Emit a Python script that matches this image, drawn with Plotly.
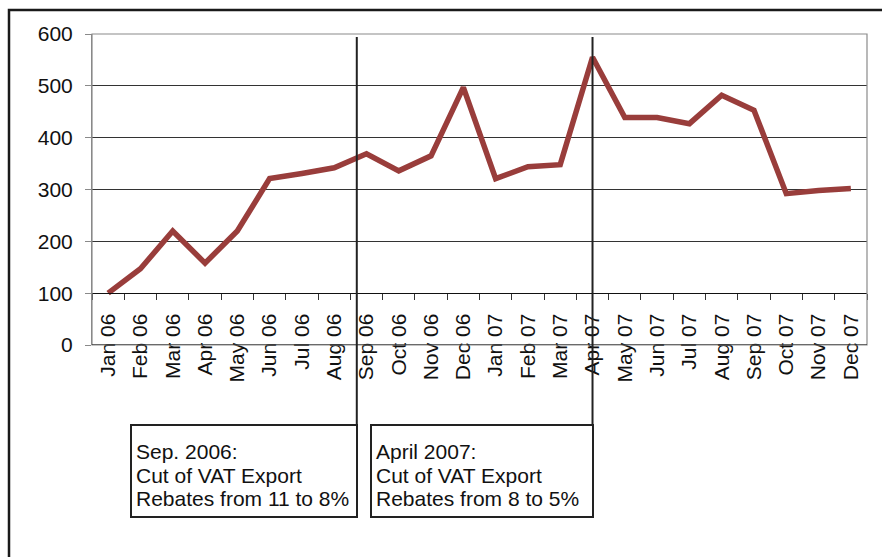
import plotly.graph_objects as go

# Monthly series, Jan 2006 - Dec 2007
months = ["Jan 06", "Feb 06", "Mar 06", "Apr 06", "May 06", "Jun 06", "Jul 06", "Aug 06",
          "Sep 06", "Oct 06", "Nov 06", "Dec 06", "Jan 07", "Feb 07", "Mar 07", "Apr 07",
          "May 07", "Jun 07", "Jul 07", "Aug 07", "Sep 07", "Oct 07", "Nov 07", "Dec 07"]
values = [100, 147, 220, 158, 220, 321, 331, 342, 369, 336, 365, 497,
          321, 344, 348, 555, 439, 439, 427, 482, 453, 292, 298, 302]
y_ticks = [0, 100, 200, 300, 400, 500, 600]

# Policy events: (category position, text lines)
events = [
    (7.7, ["Sep. 2006:", "Cut of VAT Export", "Rebates from 11 to 8%"]),
    (15, ["April 2007:", "Cut of VAT Export", "Rebates from 8 to 5%"]),
]

W, H = 882, 557
L, R, T, B = 92, 15, 34, 212
PW, PH = W - L - R, H - T - B
FONT = "Liberation Sans, Arial, sans-serif"


def px_x(x):
    return (x - L) / PW


def px_y(y):
    return (H - B - y) / PH


fig = go.Figure()
fig.add_trace(go.Scatter(
    x=months, y=values, mode="lines",
    line=dict(color="#993D3B", width=5.5),
    showlegend=False, hoverinfo="skip",
))

shapes = []
# plot-area border
shapes.append(dict(type="rect", xref="paper", yref="paper", x0=0, x1=1, y0=0, y1=1,
                   line=dict(color="#8a8a8a", width=1.2), layer="above"))
# baseline at zero
shapes.append(dict(type="line", xref="paper", yref="y", x0=0, x1=1, y0=0, y1=0,
                   line=dict(color="#111", width=1.2), layer="above"))
# outer frame (open to right and bottom)
shapes.append(dict(type="path", xref="paper", yref="paper",
                   path=f"M {px_x(9)},{px_y(562)} L {px_x(9)},{px_y(10)} L {px_x(890)},{px_y(10)}",
                   line=dict(color="#1a1a1a", width=2.5)))

annotations = []
box_specs = [(131, 357), (371, 593)]
for (xpos, lines), (bx0, bx1) in zip(events, box_specs):
    shapes.append(dict(type="line", xref="x", yref="paper", x0=xpos, x1=xpos,
                       y0=px_y(425), y1=px_y(37),
                       line=dict(color="#222", width=2), layer="above"))
    shapes.append(dict(type="rect", xref="paper", yref="paper",
                       x0=px_x(bx0), x1=px_x(bx1), y0=px_y(517), y1=px_y(425),
                       line=dict(color="#222", width=2), fillcolor="white"))
    for i, txt in enumerate(lines):
        annotations.append(dict(xref="paper", yref="paper", x=px_x(bx0 + 3), y=px_y(452 + 23 * i),
                                xanchor="left", yanchor="middle", showarrow=False, text=txt,
                                font=dict(family=FONT, size=21, color="#111")))

fig.update_layout(
    width=W, height=H,
    margin=dict(l=L, r=R, t=T, b=B, pad=0),
    paper_bgcolor="white", plot_bgcolor="white",
    shapes=shapes, annotations=annotations,
    font=dict(family=FONT, size=21, color="#111"),
    xaxis=dict(
        type="category", categoryorder="array", categoryarray=months,
        anchor="free", position=100 / 600,
        showline=True, linecolor="#111", linewidth=1.2,
        ticks="outside", ticklen=6, tickcolor="#333", tickson="boundaries",
        tickangle=-90, ticklabelstandoff=11,
        tickfont=dict(family=FONT, size=21, color="#111"),
        showgrid=False, zeroline=False,
        range=[-0.5, len(months) - 0.5],
    ),
    yaxis=dict(
        range=[0, 600], tickvals=y_ticks,
        showgrid=True, gridcolor="#333", gridwidth=1,
        showline=True, linecolor="#8a8a8a",
        ticks="outside", ticklen=6, tickcolor="#8a8a8a",
        ticklabelstandoff=8,
        tickfont=dict(family=FONT, size=21, color="#111"),
        zeroline=False,
    ),
)

fig.write_html("out.html")
